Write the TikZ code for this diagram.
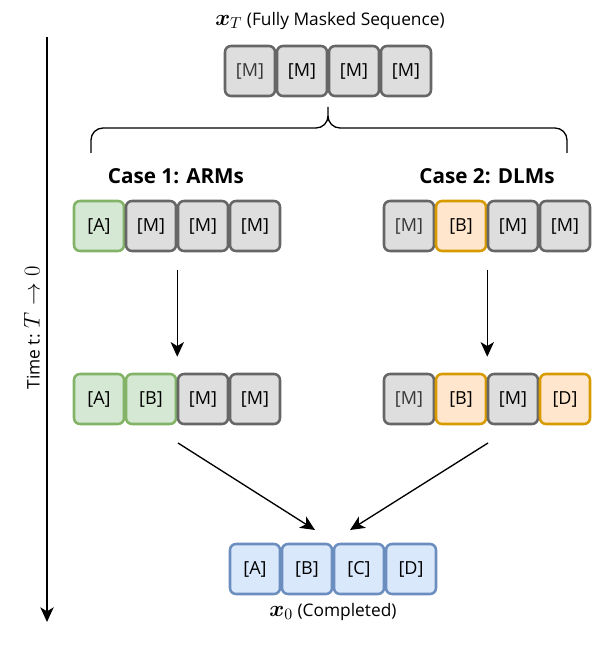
\documentclass[tikz,border=0pt]{standalone}
\usepackage{fix-cm}
\usepackage{amsmath}
\usepackage{bm}
\usepackage{fontspec}
\setmainfont{Open Sans}
\usetikzlibrary{arrows.meta}

\definecolor{maskfill}{HTML}{DEDEDE}
\definecolor{maskdraw}{HTML}{666666}
\definecolor{armfill}{HTML}{D5E8D4}
\definecolor{armdraw}{HTML}{82B366}
\definecolor{dlmfill}{HTML}{FFE6CC}
\definecolor{dlmdraw}{HTML}{D79B00}
\definecolor{donefill}{HTML}{DAE8FC}
\definecolor{donedraw}{HTML}{6C8EBF}

\newcommand{\bigmath}[1]{{\fontsize{17}{18}\selectfont$#1$}}

\tikzset{
  tok/.style={rounded corners=4.5pt,line width=1.9pt,minimum width=37.5pt,minimum height=37.5pt,inner sep=0pt,font=\fontsize{13.5}{15}\selectfont},
  mask/.style={tok,draw=maskdraw,fill=maskfill},
  armtok/.style={tok,draw=armdraw,fill=armfill},
  dlmtok/.style={tok,draw=dlmdraw,fill=dlmfill},
  donetok/.style={tok,draw=donedraw,fill=donefill},
  faint/.style={text=black!78},
  caselbl/.style={font=\fontsize{15.5}{18}\selectfont\bfseries},
  lbl/.style={font=\fontsize{13}{15}\selectfont},
  flow/.style={-{Stealth[length=11pt,width=10pt,inset=3pt]},line width=1pt}
}

\begin{document}
\begin{tikzpicture}[x=0.75pt,y=-0.75pt]
\useasboundingbox (0,0) rectangle (598,649);

% fully masked input
\node[lbl] (ttl) at (330,21) {\bigmath{\bm{x}_T} (Fully Masked Sequence)};
\node[mask,faint] (t0) at (250,71) {[M]};
\node[mask] (t1) at (302,71) {[M]};
\node[mask] (t2) at (354,71) {[M]};
\node[mask] (t3) at (406,71) {[M]};

% brace
\draw[line width=1pt] (91,153) -- (91,140) to[out=90,in=180] (103,128) -- (316,128) to[out=0,in=-90] (328,116) -- (328,107);
\draw[line width=1pt] (567,153) -- (567,140) to[out=90,in=0] (555,128) -- (340,128) to[out=180,in=-90] (328,116);

% case 1
\node[caselbl] (arms) at (176,176) {Case 1: ARMs};
\node[armtok] (a0) at (99,226) {[A]};
\node[mask] (a1) at (151,226) {[M]};
\node[mask] (a2) at (203,226) {[M]};
\node[mask] (a3) at (255,226) {[M]};

\node[armtok] (b0) at (99,399) {[A]};
\node[armtok] (b1) at (151,399) {[B]};
\node[mask] (b2) at (203,399) {[M]};
\node[mask] (b3) at (255,399) {[M]};

% case 2
\node[caselbl] (dlms) at (487,176) {Case 2: DLMs};
\node[mask,faint] (c0) at (409,226) {[M]};
\node[dlmtok] (c1) at (461,226) {[B]};
\node[mask] (c2) at (513,226) {[M]};
\node[mask] (c3) at (565,226) {[M]};

\node[mask,faint] (d0) at (409,399) {[M]};
\node[dlmtok] (d1) at (461,399) {[B]};
\node[mask] (d2) at (513,399) {[M]};
\node[dlmtok] (d3) at (565,399) {[D]};

% completed output
\node[donetok] (e0) at (255,569) {[A]};
\node[donetok] (e1) at (307,569) {[B]};
\node[donetok] (e2) at (359,569) {[C]};
\node[donetok] (e3) at (411,569) {[D]};
\node[lbl] (out) at (333,612) {\bigmath{\bm{x}_0} (Completed)};

% steps
\draw[flow,shorten <=13pt,shorten >=12pt] (a1.south east) -- (b1.north east);
\draw[flow,shorten <=13pt,shorten >=12pt] (c1.south east) -- (d1.north east);
\coordinate (armsend) at (178,443);
\coordinate (dlmsend) at (488,443);
\coordinate (mergel) at (315,530);
\coordinate (merger) at (350,530);
\draw[flow] (armsend) -- (mergel);
\draw[flow] (dlmsend) -- (merger);

% time axis
\coordinate (ttop) at (47,37);
\coordinate (tbot) at (47,622);
\draw[flow] (ttop) -- (tbot);
\node[lbl,rotate=90] (time) at (32,328) {Time t: \bigmath{T \rightarrow 0}};
\end{tikzpicture}
\end{document}
